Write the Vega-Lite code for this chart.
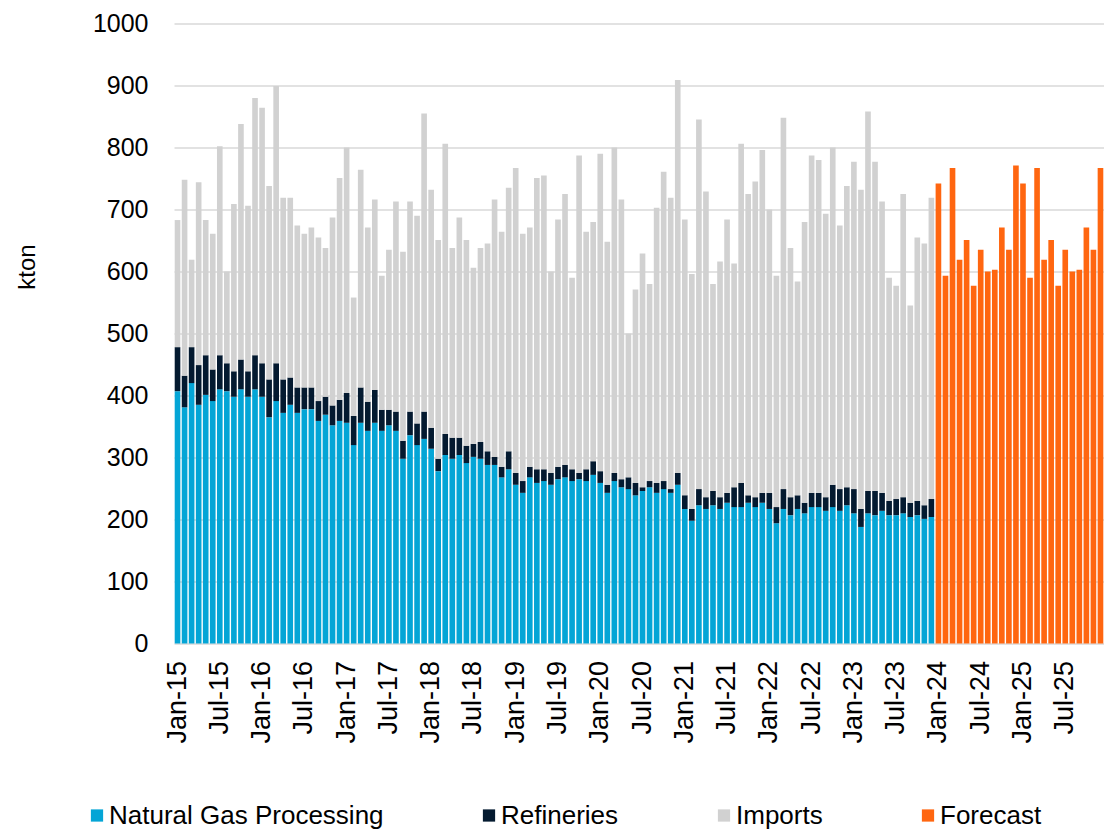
{
  "$schema": "https://vega.github.io/schema/vega-lite/v6.json",
  "width": 930,
  "height": 620,
  "autosize": {"type": "none"},
  "padding": {"left": 174, "top": 23.5, "right": 0, "bottom": 186.5},
  "background": "#ffffff",
  "config": {
    "view": {"stroke": null},
    "font": "Liberation Sans"
  },
  "data": {
    "values": [
      {"m":"Jan-15","ngp":407,"ref":71,"imp":205},
      {"m":"Feb-15","ngp":381,"ref":51,"imp":316},
      {"m":"Mar-15","ngp":420,"ref":58,"imp":141},
      {"m":"Apr-15","ngp":385,"ref":64,"imp":295},
      {"m":"May-15","ngp":401,"ref":64,"imp":218},
      {"m":"Jun-15","ngp":391,"ref":51,"imp":219},
      {"m":"Jul-15","ngp":410,"ref":55,"imp":337},
      {"m":"Aug-15","ngp":407,"ref":45,"imp":148},
      {"m":"Sep-15","ngp":398,"ref":41,"imp":270},
      {"m":"Oct-15","ngp":410,"ref":48,"imp":380},
      {"m":"Nov-15","ngp":398,"ref":41,"imp":267},
      {"m":"Dec-15","ngp":410,"ref":55,"imp":415},
      {"m":"Jan-16","ngp":398,"ref":54,"imp":412},
      {"m":"Feb-16","ngp":365,"ref":61,"imp":312},
      {"m":"Mar-16","ngp":391,"ref":61,"imp":447},
      {"m":"Apr-16","ngp":372,"ref":54,"imp":293},
      {"m":"May-16","ngp":385,"ref":44,"imp":290},
      {"m":"Jun-16","ngp":372,"ref":41,"imp":261},
      {"m":"Jul-16","ngp":378,"ref":35,"imp":248},
      {"m":"Aug-16","ngp":378,"ref":35,"imp":258},
      {"m":"Sep-16","ngp":359,"ref":32,"imp":264},
      {"m":"Oct-16","ngp":369,"ref":29,"imp":240},
      {"m":"Nov-16","ngp":352,"ref":32,"imp":303},
      {"m":"Dec-16","ngp":359,"ref":34,"imp":358},
      {"m":"Jan-17","ngp":356,"ref":48,"imp":396},
      {"m":"Feb-17","ngp":320,"ref":47,"imp":191},
      {"m":"Mar-17","ngp":356,"ref":57,"imp":351},
      {"m":"Apr-17","ngp":343,"ref":47,"imp":281},
      {"m":"May-17","ngp":356,"ref":53,"imp":307},
      {"m":"Jun-17","ngp":343,"ref":34,"imp":216},
      {"m":"Jul-17","ngp":352,"ref":25,"imp":258},
      {"m":"Aug-17","ngp":343,"ref":31,"imp":339},
      {"m":"Sep-17","ngp":298,"ref":29,"imp":305},
      {"m":"Oct-17","ngp":336,"ref":38,"imp":339},
      {"m":"Nov-17","ngp":320,"ref":35,"imp":335},
      {"m":"Dec-17","ngp":330,"ref":44,"imp":481},
      {"m":"Jan-18","ngp":314,"ref":34,"imp":384},
      {"m":"Feb-18","ngp":278,"ref":20,"imp":353},
      {"m":"Mar-18","ngp":304,"ref":34,"imp":468},
      {"m":"Apr-18","ngp":298,"ref":34,"imp":306},
      {"m":"May-18","ngp":304,"ref":28,"imp":355},
      {"m":"Jun-18","ngp":291,"ref":28,"imp":332},
      {"m":"Jul-18","ngp":301,"ref":21,"imp":284},
      {"m":"Aug-18","ngp":298,"ref":27,"imp":313},
      {"m":"Sep-18","ngp":288,"ref":22,"imp":335},
      {"m":"Oct-18","ngp":288,"ref":13,"imp":415},
      {"m":"Nov-18","ngp":268,"ref":17,"imp":379},
      {"m":"Dec-18","ngp":281,"ref":29,"imp":425},
      {"m":"Jan-19","ngp":256,"ref":19,"imp":492},
      {"m":"Feb-19","ngp":243,"ref":19,"imp":399},
      {"m":"Mar-19","ngp":268,"ref":17,"imp":386},
      {"m":"Apr-19","ngp":259,"ref":22,"imp":470},
      {"m":"May-19","ngp":262,"ref":19,"imp":474},
      {"m":"Jun-19","ngp":256,"ref":19,"imp":325},
      {"m":"Jul-19","ngp":265,"ref":20,"imp":399},
      {"m":"Aug-19","ngp":268,"ref":20,"imp":437},
      {"m":"Sep-19","ngp":262,"ref":19,"imp":309},
      {"m":"Oct-19","ngp":265,"ref":10,"imp":512},
      {"m":"Nov-19","ngp":262,"ref":19,"imp":383},
      {"m":"Dec-19","ngp":272,"ref":22,"imp":386},
      {"m":"Jan-20","ngp":259,"ref":19,"imp":512},
      {"m":"Feb-20","ngp":243,"ref":13,"imp":392},
      {"m":"Mar-20","ngp":262,"ref":13,"imp":525},
      {"m":"Apr-20","ngp":252,"ref":13,"imp":451},
      {"m":"May-20","ngp":249,"ref":19,"imp":232},
      {"m":"Jun-20","ngp":239,"ref":20,"imp":312},
      {"m":"Jul-20","ngp":246,"ref":6,"imp":377},
      {"m":"Aug-20","ngp":252,"ref":10,"imp":318},
      {"m":"Sep-20","ngp":243,"ref":16,"imp":444},
      {"m":"Oct-20","ngp":249,"ref":13,"imp":499},
      {"m":"Nov-20","ngp":243,"ref":6,"imp":470},
      {"m":"Dec-20","ngp":256,"ref":19,"imp":634},
      {"m":"Jan-21","ngp":217,"ref":22,"imp":445},
      {"m":"Feb-21","ngp":198,"ref":19,"imp":379},
      {"m":"Mar-21","ngp":223,"ref":26,"imp":596},
      {"m":"Apr-21","ngp":217,"ref":19,"imp":493},
      {"m":"May-21","ngp":223,"ref":23,"imp":334},
      {"m":"Jun-21","ngp":217,"ref":19,"imp":380},
      {"m":"Jul-21","ngp":227,"ref":16,"imp":441},
      {"m":"Aug-21","ngp":220,"ref":32,"imp":361},
      {"m":"Sep-21","ngp":220,"ref":39,"imp":547},
      {"m":"Oct-21","ngp":227,"ref":12,"imp":486},
      {"m":"Nov-21","ngp":220,"ref":16,"imp":509},
      {"m":"Dec-21","ngp":227,"ref":16,"imp":553},
      {"m":"Jan-22","ngp":217,"ref":26,"imp":457},
      {"m":"Feb-22","ngp":194,"ref":26,"imp":373},
      {"m":"Mar-22","ngp":217,"ref":32,"imp":599},
      {"m":"Apr-22","ngp":207,"ref":29,"imp":402},
      {"m":"May-22","ngp":217,"ref":22,"imp":345},
      {"m":"Jun-22","ngp":210,"ref":17,"imp":453},
      {"m":"Jul-22","ngp":220,"ref":23,"imp":544},
      {"m":"Aug-22","ngp":220,"ref":23,"imp":537},
      {"m":"Sep-22","ngp":214,"ref":22,"imp":457},
      {"m":"Oct-22","ngp":220,"ref":36,"imp":544},
      {"m":"Nov-22","ngp":214,"ref":35,"imp":425},
      {"m":"Dec-22","ngp":223,"ref":29,"imp":486},
      {"m":"Jan-23","ngp":210,"ref":39,"imp":528},
      {"m":"Feb-23","ngp":188,"ref":29,"imp":515},
      {"m":"Mar-23","ngp":210,"ref":36,"imp":612},
      {"m":"Apr-23","ngp":207,"ref":39,"imp":531},
      {"m":"May-23","ngp":214,"ref":29,"imp":470},
      {"m":"Jun-23","ngp":207,"ref":23,"imp":360},
      {"m":"Jul-23","ngp":207,"ref":26,"imp":344},
      {"m":"Aug-23","ngp":210,"ref":26,"imp":489},
      {"m":"Sep-23","ngp":204,"ref":23,"imp":318},
      {"m":"Oct-23","ngp":207,"ref":23,"imp":425},
      {"m":"Nov-23","ngp":201,"ref":22,"imp":422},
      {"m":"Dec-23","ngp":204,"ref":29,"imp":486},
      {"m":"Jan-24","fc":742},
      {"m":"Feb-24","fc":593},
      {"m":"Mar-24","fc":767},
      {"m":"Apr-24","fc":619},
      {"m":"May-24","fc":651},
      {"m":"Jun-24","fc":577},
      {"m":"Jul-24","fc":635},
      {"m":"Aug-24","fc":600},
      {"m":"Sep-24","fc":603},
      {"m":"Oct-24","fc":671},
      {"m":"Nov-24","fc":635},
      {"m":"Dec-24","fc":771},
      {"m":"Jan-25","fc":742},
      {"m":"Feb-25","fc":590},
      {"m":"Mar-25","fc":767},
      {"m":"Apr-25","fc":619},
      {"m":"May-25","fc":651},
      {"m":"Jun-25","fc":577},
      {"m":"Jul-25","fc":635},
      {"m":"Aug-25","fc":600},
      {"m":"Sep-25","fc":603},
      {"m":"Oct-25","fc":671},
      {"m":"Nov-25","fc":635},
      {"m":"Dec-25","fc":767}
    ]
  },
  "transform": [
    {"fold": ["ngp", "ref", "imp", "fc"], "as": ["key", "value"]},
    {"filter": "isValid(datum.value)"},
    {"calculate": "indexof(['ngp','ref','imp','fc'], datum.key)", "as": "rank"},
    {"calculate": "['Natural Gas Processing','Refineries','Imports','Forecast'][datum.rank]", "as": "series"}
  ],
  "mark": {"type": "bar"},
  "encoding": {
    "x": {
      "field": "m",
      "type": "ordinal",
      "sort": null,
      "scale": {"paddingInner": 0.2, "paddingOuter": 0.1},
      "axis": {
        "title": null,
        "labelExpr": "indexof(datum.value,'Jan')==0 || indexof(datum.value,'Jul')==0 ? datum.value : ''",
        "labelAngle": -90,
        "labelFontSize": 27,
        "labelFont": "Liberation Sans",
        "labelColor": "#000000",
        "labelPadding": 17,
        "ticks": false,
        "domain": false,
        "grid": false,
        "labelOverlap": false
      }
    },
    "y": {
      "field": "value",
      "type": "quantitative",
      "stack": "zero",
      "scale": {"domain": [0, 1000], "nice": false},
      "axis": {
        "values": [0, 100, 200, 300, 400, 500, 600, 700, 800, 900, 1000],
        "format": "d",
        "title": "kton",
        "titleFont": "Liberation Sans",
        "titleFontSize": 24,
        "titleFontWeight": "normal",
        "titleColor": "#000000",
        "titleX": -147,
        "titleY": 243,
        "titleAngle": -90,
        "titleAlign": "center",
        "titleBaseline": "middle",
        "labelFontSize": 25,
        "labelFont": "Liberation Sans",
        "labelColor": "#000000",
        "labelPadding": 26,
        "ticks": false,
        "domain": false,
        "grid": true,
        "gridColor": "#D9D9D9",
        "gridWidth": 1.4
      }
    },
    "color": {
      "field": "series",
      "type": "nominal",
      "scale": {
        "domain": ["Natural Gas Processing", "Refineries", "Imports", "Forecast"],
        "range": ["#04A5D6", "#041A30", "#D1D1D1", "#FF6610"]
      },
      "legend": {
        "orient": "none",
        "legendX": -90,
        "legendY": 779,
        "direction": "horizontal",
        "title": null,
        "symbolType": "square",
        "symbolSize": 150,
        "symbolStrokeWidth": 0,
        "labelFontSize": 26,
        "labelFont": "Liberation Sans",
        "labelColor": "#000000",
        "labelLimit": 500,
        "labelOffset": -1,
        "columnPadding": 92,
        "padding": 0
      }
    },
    "order": {"field": "rank", "type": "quantitative"}
  }
}
